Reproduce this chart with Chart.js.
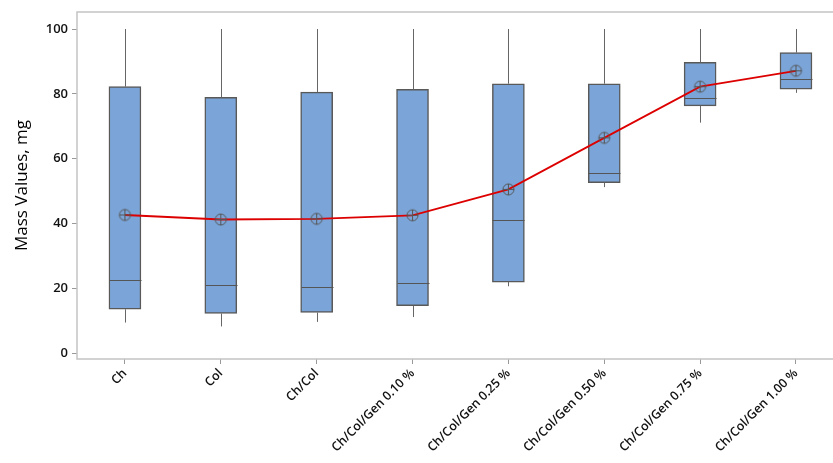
<!DOCTYPE html>
<html>
<head>
<meta charset="utf-8">
<script src="https://cdn.jsdelivr.net/npm/chart.js@4/dist/chart.umd.min.js"></script>
<style>
  body { margin: 0; background: #fff; overflow: hidden; }
</style>
</head>
<body>
<canvas id="boxChart" width="845" height="463"></canvas>
<script>
// groups on the x axis
const groups = ['Ch', 'Col', 'Ch/Col', 'Ch/Col/Gen 0.10 %', 'Ch/Col/Gen 0.25 %',
  'Ch/Col/Gen 0.50 %', 'Ch/Col/Gen 0.75 %', 'Ch/Col/Gen 1.00 %'];

// box plot values, mg
const whiskerLow = [9.4, 8.2, 9.6, 11.1, 20.6, 51.2, 71.1, 80.3];
const q1 = [13.5, 12.2, 12.5, 14.6, 21.9, 52.6, 76.3, 81.4];
const median = [22.5, 21.1, 20.4, 21.7, 40.9, 55.7, 78.8, 84.5];
const q3 = [82.2, 78.9, 80.5, 81.4, 83.1, 83.1, 89.7, 92.7];
const whiskerHigh = [100, 100, 100, 100, 100, 100, 100, 100];
const means = [42.6, 41.2, 41.4, 42.5, 50.5, 66.4, 82.2, 87.1];

const yTicks = [0, 20, 40, 60, 80, 100];

// mean marker: circle with a cross
function makeMarker() {
  const c = document.createElement('canvas');
  c.width = 15; c.height = 15;
  const g = c.getContext('2d');
  g.strokeStyle = '#555';
  g.lineWidth = 1;
  g.beginPath();
  g.arc(7.5, 7.5, 5.5, 0, Math.PI * 2);
  g.moveTo(7.5, 2); g.lineTo(7.5, 13);
  g.moveTo(2, 7.5); g.lineTo(13, 7.5);
  g.stroke();
  return c;
}

const whiskerPlugin = {
  id: 'whiskers',
  afterDatasetDraw(chart, args) {
    if (args.index !== 0) return;
    const ctx = chart.ctx;
    const xs = chart.scales.x, ys = chart.scales.y;
    const half = 16;
    ctx.save();
    groups.forEach((g, i) => {
      const x = Math.round(xs.getPixelForValue(i)) + 0.5;
      ctx.strokeStyle = '#666';
      ctx.lineWidth = 1;
      ctx.beginPath();
      ctx.moveTo(x, ys.getPixelForValue(q3[i]));
      ctx.lineTo(x, ys.getPixelForValue(whiskerHigh[i]));
      ctx.moveTo(x, ys.getPixelForValue(q1[i]));
      ctx.lineTo(x, ys.getPixelForValue(whiskerLow[i]));
      ctx.stroke();
      ctx.strokeStyle = '#555';
      ctx.lineWidth = 1.2;
      const my = Math.round(ys.getPixelForValue(median[i])) + 0.5;
      ctx.beginPath();
      ctx.moveTo(x - half, my);
      ctx.lineTo(x + half, my);
      ctx.stroke();
    });
    ctx.restore();
  }
};

// grey frame: top, left and bottom (the right side runs off the picture)
const framePlugin = {
  id: 'frame',
  beforeDatasetsDraw(chart) {
    const a = chart.chartArea, ctx = chart.ctx;
    ctx.save();
    ctx.strokeStyle = '#c4c4c4';
    ctx.lineWidth = 1.5;
    ctx.beginPath();
    ctx.moveTo(chart.width, a.top);
    ctx.lineTo(a.left, a.top);
    ctx.lineTo(a.left, a.bottom);
    ctx.lineTo(chart.width, a.bottom);
    ctx.stroke();
    ctx.restore();
  }
};

new Chart(document.getElementById('boxChart'), {
  type: 'bar',
  data: {
    datasets: [{
      type: 'bar',
      data: q1.map((v, i) => ({ x: i, y: [v, q3[i]] })),
      backgroundColor: '#7ba5d8',
      borderColor: '#595959',
      borderWidth: 1.5,
      borderSkipped: false,
      barThickness: 32,
      order: 1
    }, {
      type: 'line',
      data: means.map((v, i) => ({ x: i, y: v })),
      borderColor: '#dd0000',
      borderWidth: 1.8,
      pointStyle: makeMarker(),
      pointRadius: 6,
      tension: 0,
      order: 0
    }]
  },
  options: {
    responsive: false,
    animation: false,
    layout: { padding: { top: 12, right: 0, bottom: 0, left: 0 } },
    plugins: { legend: { display: false }, tooltip: { enabled: false } },
    scales: {
      x: {
        type: 'linear',
        offset: false,
        min: -0.5,
        max: 7.43,
        afterBuildTicks: s => { s.ticks = groups.map((g, i) => ({ value: i })); },
        afterFit: s => { s.height = 104; },
        grid: { offset: false, drawOnChartArea: false, drawTicks: true, tickLength: 5, color: '#999' },
        border: { display: false },
        ticks: {
          autoSkip: false,
          minRotation: 45,
          maxRotation: 45,
          padding: 2,
          color: '#111',
          font: { family: 'Open Sans', size: 12.5, weight: '600' },
          callback: v => groups[v]
        }
      },
      y: {
        min: -1.85,
        max: 105.25,
        afterBuildTicks: s => { s.ticks = yTicks.map(v => ({ value: v })); },
        afterFit: s => { s.width = 77; },
        grid: { drawOnChartArea: false, drawTicks: true, tickLength: 5, color: '#999' },
        border: { display: false },
        ticks: {
          padding: 4,
          color: '#111',
          font: { family: 'Open Sans', size: 13, weight: '600' }
        },
        title: {
          display: true,
          text: 'Mass Values, mg',
          color: '#000',
          padding: { top: 12, bottom: 4 },
          font: { family: 'Open Sans', size: 17 }
        }
      }
    }
  },
  plugins: [framePlugin, whiskerPlugin]
});
</script>
</body>
</html>
